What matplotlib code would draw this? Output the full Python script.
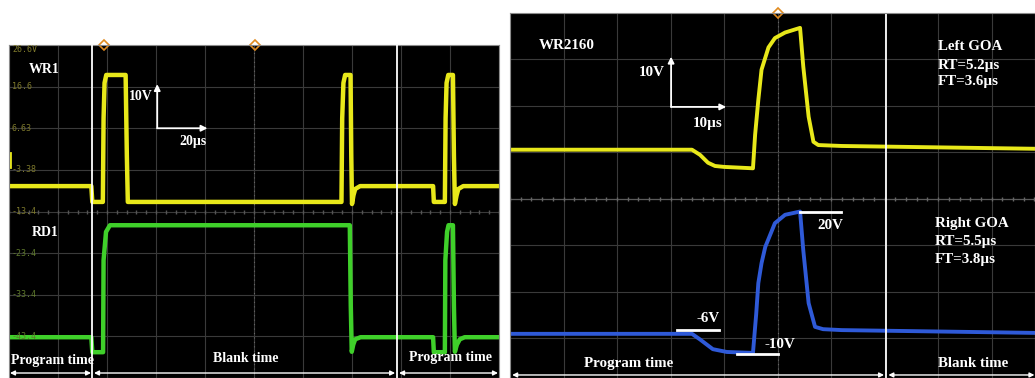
import numpy as np
import matplotlib.pyplot as plt
from matplotlib.transforms import Bbox, TransformedBbox

# ---- left scope: WR1 / RD1  (20us/div, 10V/div), values in V
wr1_t = [0, 33.6, 34.0, 38.3, 38.6, 39.0, 39.7, 47.6, 48.1, 48.5, 135.7, 136.0, 136.5, 137.2,
         139.4, 139.7, 140.0, 140.6, 141.3, 143.3, 173.1, 173.4, 177.9, 178.2, 178.6, 179.3,
         181.2, 181.6, 182.0, 182.7, 183.4, 185.4, 200]
wr1_v = [-7.3, -7.3, -11.1, -11.1, 9.0, 17.5, 19.4, 19.4, 0.0, -11.1, -11.1, 9.0, 17.5, 19.4,
         19.4, 0.0, -11.6, -9.5, -8.0, -7.3, -7.3, -11.1, -11.1, 9.0, 17.5, 19.4,
         19.4, 0.0, -11.6, -9.5, -8.0, -7.3, -7.3]
rd1_t = [0, 33.6, 34.0, 38.4, 38.6, 39.6, 41.2, 139.1, 139.5, 139.9, 140.5, 141.3, 143.5,
         173.1, 173.4, 177.9, 178.1, 178.8, 179.4, 181.2, 181.6, 182.0, 182.8, 184.0, 186.0, 200]
rd1_v = [-7.5, -7.5, -11.1, -11.1, 11.0, 17.8, 19.4, 19.4, 0.0, -11.0, -9.3, -8.0, -7.5,
         -7.5, -11.1, -11.1, 11.0, 17.8, 19.4, 19.4, 0.0, -11.0, -9.3, -8.0, -7.5, -7.5]
RD1_OFFSET = -36.1
left_ylabels = ['26.6V', '16.6', '6.63', '-3.38', '-13.4', '-23.4', '-33.4', '-43.4']
left_walls = [33.9, 158.4]
left_spans = [(0.4, 33.5, 'Program time'), (34.7, 157.6, 'Blank time'), (159.2, 199.6, 'Program time')]

# ---- right scope: WR2160 left / right GOA (10us/div, 10V/div)
lgoa_t = [0, 34.0, 35.5, 37.0, 38.3, 40.0, 45.4, 45.8, 46.4, 47.0, 48.3, 49.5, 51.4, 54.2,
          54.8, 55.8, 56.7, 57.6, 62.0, 98.1]
lgoa_v = [-6.2, -6.2, -7.3, -9.0, -9.7, -9.9, -10.2, -3.0, 4.5, 11.0, 15.8, 17.8, 19.0, 20.0,
          11.7, 0.9, -4.5, -5.2, -5.4, -6.0]
rgoa_t = [0, 34.0, 35.5, 37.9, 40.5, 45.4, 46.0, 46.4, 47.0, 47.7, 49.5, 51.4, 54.2,
          54.8, 55.8, 57.0, 58.5, 62.0, 98.1]
rgoa_v = [-6.2, -6.2, -7.4, -9.5, -10.1, -10.3, -2.0, 4.7, 9.0, 12.5, 17.6, 19.4, 20.1,
          11.8, 0.4, -4.7, -5.2, -5.4, -6.0]
LGOA_OFFSET = 39.6
level_marks = [(31.2, 39.1, -5.4, '-6V', 37.0, -2.8),
               (42.4, 50.1, -10.5, '-10V', 50.5, -8.4),
               (54.2, 61.9, 20.1, '20V', 59.8, 17.0)]

YEL = '#e8e81a'
GRN = '#3fd02a'
BLU = '#2f5ad8'
TXT = dict(color='white', fontsize=10, fontweight='bold', family='Liberation Serif')
TXT_R = dict(TXT, fontsize=10.8)

fig = plt.figure(figsize=(10.35, 3.78), dpi=100)
fig.patch.set_facecolor('white')


def scope(rect, xlim, ylim, xgrid, ygrid):
    ax = fig.add_axes(rect)
    ax.set_facecolor('black')
    ax.set_xlim(xlim)
    ax.set_ylim(ylim)
    ax.set_xticks(xgrid)
    ax.set_yticks(ygrid)
    ax.grid(True, color='#3a3a3a', lw=0.8)
    ax.tick_params(length=0, labelbottom=False, labelleft=False)
    for s in ax.spines.values():
        s.set_color('#8c8c8c')
        s.set_linewidth(0.8)
    return ax


def span_arrow(ax, x0, x1, y):
    ax.annotate('', xy=(x1, y), xytext=(x0, y),
                arrowprops=dict(arrowstyle='<|-|>', color='white', lw=1,
                                mutation_scale=7, shrinkA=0, shrinkB=0))


def scale_arrows(ax, x0, y0, x1, y1):
    for xy in [(x0, y1), (x1, y0)]:
        ax.annotate('', xy=xy, xytext=(x0, y0),
                    arrowprops=dict(arrowstyle='-|>', color='white', lw=1.3,
                                    mutation_scale=9, shrinkA=0, shrinkB=0))


# ================= left panel =================
axl = scope([9 / 1035, 0, 490 / 1035, 333 / 378], (0, 200), (-53.4, 26.6),
            np.arange(0, 201, 20), [26.6 - 10 * k for k in range(9)])
axl.axvline(100, color='#666666', lw=0.8, ls=(0, (1, 3)))
axl.plot(np.arange(0, 200.1, 4), [-13.4] * 51, ls='none', marker='|', ms=3, color='#555555')
for k, lab in enumerate(left_ylabels):
    y = 26.6 - 10 * k if k else 25.6
    axl.text(1.2, y, lab, color='#7f7a2c' if k < 5 else '#5f7a2c', fontsize=6,
             va='center', family='DejaVu Sans Mono')

axl.plot(wr1_t, wr1_v, color=YEL, lw=3.2, solid_joinstyle='round')
axl.plot(rd1_t, np.array(rd1_v) + RD1_OFFSET, color=GRN, lw=3.2, solid_joinstyle='round')
axl.plot([0.3, 0.3], [-2.7, 0.6], color=YEL, lw=2)

for w in left_walls:
    axl.axvline(w, color='white', lw=1.3, zorder=5)
for x0, x1, lab in left_spans:
    span_arrow(axl, x0, x1, -52.2)
t = axl.text(1.0, -49.2, left_spans[0][2], ha='left', va='center', **TXT)
t.set_clip_box(TransformedBbox(Bbox([[0, -60], [left_walls[0], -40]]), axl.transData))
axl.text(96.7, -48.6, left_spans[1][2], ha='center', va='center', **TXT)
axl.text(180.0, -48.4, left_spans[2][2], ha='center', va='center', **TXT)

axl.text(14.3, 20.8, 'WR1', ha='center', va='center', **TXT)
axl.text(14.7, -18.4, 'RD1', ha='center', va='center', **TXT)
scale_arrows(axl, 60.5, 6.6, 81.0, 17.2)
axl.text(53.9, 14.3, '10V', ha='center', va='center', **TXT)
axl.text(75.1, 3.5, '20µs', ha='center', va='center', **TXT)
axl.plot([38.8, 100.4], [26.6, 26.6], ls='none', marker='D', ms=5, mfc='none',
         mec='#e08a1e', mew=1.2, clip_on=False)

# ================= right panel =================
axr = scope([510 / 1035, 0, 525 / 1035, 365 / 378], (0, 98.1), (-15.7, 62.8),
            np.arange(0, 99, 10), [62.8 - 10 * k for k in range(8)])
axr.axvline(50, color='#666666', lw=0.8, ls=(0, (1, 3)))
axr.axhline(22.8, color='#5a5a5a', lw=0.9)
axr.plot(np.arange(0, 98.1, 2), [22.8] * 50, ls='none', marker='|', ms=3, color='#666666')

axr.plot(lgoa_t, np.array(lgoa_v) + LGOA_OFFSET, color=YEL, lw=2.8, solid_joinstyle='round')
axr.plot(rgoa_t, rgoa_v, color=BLU, lw=2.8, solid_joinstyle='round')

axr.axvline(70.3, color='white', lw=1.3)
span_arrow(axr, 0.4, 69.9, -15.05)
span_arrow(axr, 70.7, 98.0, -15.05)
axr.text(22.2, -12.5, 'Program time', ha='center', va='center', **TXT_R)
axr.text(86.5, -12.5, 'Blank time', ha='center', va='center', **TXT_R)

for x0, x1, y, lab, tx, ty in level_marks:
    axr.plot([x0, x1], [y, y], color='white', lw=2)
    axr.text(tx, ty, lab, ha='center', va='center', **TXT_R)

axr.text(10.65, 55.9, 'WR2160', ha='center', va='center', **TXT_R)
scale_arrows(axr, 30.1, 42.6, 40.4, 53.4)
axr.text(26.5, 49.9, '10V', ha='center', va='center', **TXT_R)
axr.text(37.0, 39.1, '10µs', ha='center', va='center', **TXT_R)

for y, lab in zip([55.5, 51.6, 48.0], ['Left GOA', 'RT=5.2µs', 'FT=3.6µs']):
    axr.text(80.0, y, lab, ha='left', va='center', **TXT_R)
for y, lab in zip([17.6, 13.6, 9.7], ['Right GOA', 'RT=5.5µs', 'FT=3.8µs']):
    axr.text(79.4, y, lab, ha='left', va='center', **TXT_R)
axr.plot([50.1], [62.8], ls='none', marker='D', ms=5, mfc='none',
         mec='#e08a1e', mew=1.2, clip_on=False)

fig.savefig('out.png', dpi=100, facecolor='white')
